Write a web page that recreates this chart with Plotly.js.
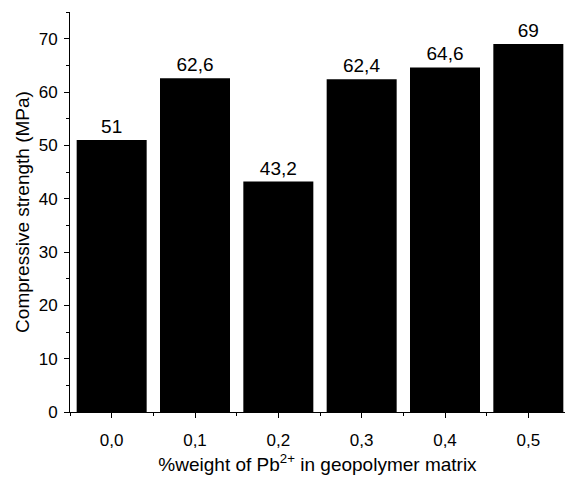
<!DOCTYPE html>
<html>
<head>
<meta charset="utf-8">
<script src="https://cdn.plot.ly/plotly-3.0.1.min.js"></script>
<style>html,body{margin:0;padding:0;background:#fff;}#chart{width:565px;height:478px;}</style>
</head>
<body>
<div id="chart"></div>
<script>
const leadFraction = [0.0, 0.1, 0.2, 0.3, 0.4, 0.5];
const strength = [51, 62.6, 43.2, 62.4, 64.6, 69];
const xTitle = '%weight of Pb<sup>2+</sup> in geopolymer matrix';
const yTitle = 'Compressive strength (MPa)';

const font = 'Liberation Sans, Arial, Helvetica, sans-serif';

const trace = {
  type: 'bar',
  x: leadFraction,
  y: strength,
  width: 0.084,
  marker: {color: '#000000', line: {color: '#000000', width: 0}},
  text: strength,
  texttemplate: '%{y}',
  textposition: 'outside',
  textfont: {family: font, size: 19, color: '#000'},
  cliponaxis: false,
  hoverinfo: 'none'
};

const layout = {
  width: 565, height: 478,
  margin: {l: 70, r: 0, t: 12, b: 66},
  paper_bgcolor: '#fff', plot_bgcolor: '#fff',
  separators: ',.',
  showlegend: false,
  font: {family: font, color: '#000'},
  xaxis: {
    range: [-0.05, 0.544],
    tickvals: leadFraction,
    tickformat: '.1f',
    ticks: 'outside', ticklen: 5, tickwidth: 1, tickcolor: '#000',
    ticklabelstandoff: 8,
    minor: {dtick: 0.05, tick0: 0.05, ticks: 'outside', ticklen: 3, tickwidth: 1, tickcolor: '#000'},
    showline: true, linecolor: '#000', linewidth: 1,
    showgrid: false, zeroline: false,
    tickfont: {family: font, size: 17, color: '#000'},
    title: {text: xTitle, font: {family: font, size: 19, color: '#000'}, standoff: 8}
  },
  yaxis: {
    range: [0, 75],
    dtick: 10, tick0: 0,
    ticks: 'outside', ticklen: 5, tickwidth: 1, tickcolor: '#000',
    ticklabelstandoff: 3,
    minor: {dtick: 5, ticks: 'outside', ticklen: 3, tickwidth: 1, tickcolor: '#000'},
    showline: true, linecolor: '#000', linewidth: 1,
    showgrid: false, zeroline: false,
    tickfont: {family: font, size: 17, color: '#000'},
    title: {text: yTitle, font: {family: font, size: 19, color: '#000'}, standoff: 4}
  }
};

Plotly.newPlot('chart', [trace], layout, {displayModeBar: false, staticPlot: true});
</script>
</body>
</html>
